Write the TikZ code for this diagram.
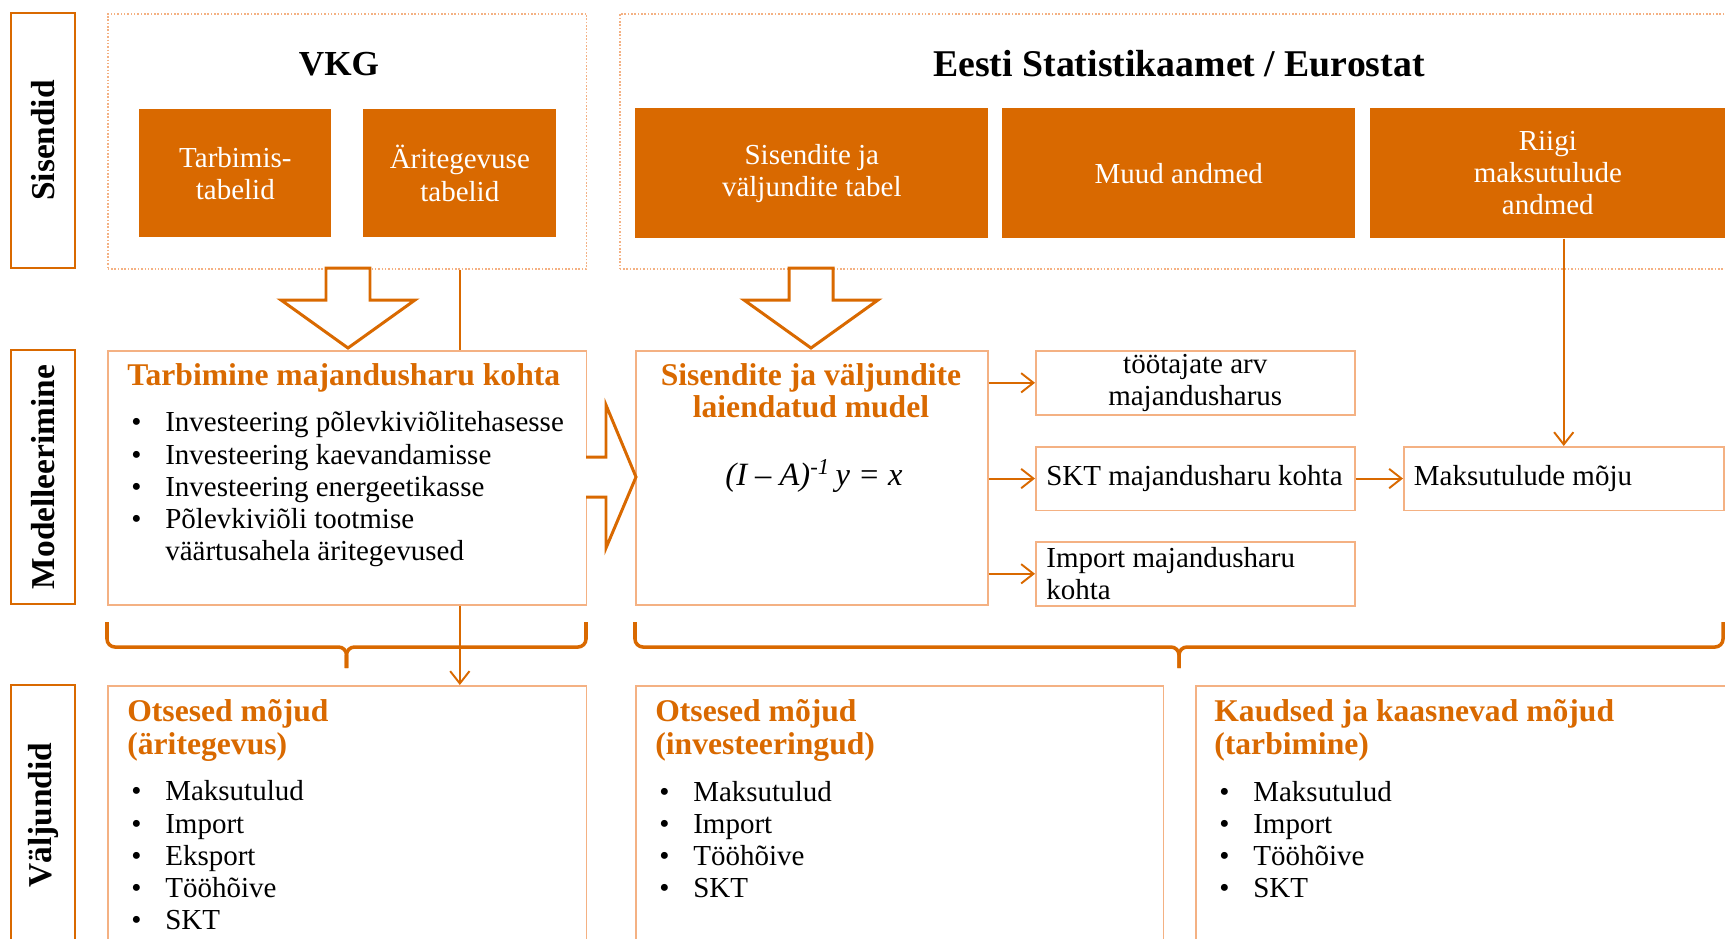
\documentclass[tikz,border=0pt]{standalone}
\usepackage{fontspec}
\setmainfont{Liberation Serif}
\usetikzlibrary{arrows.meta}

\definecolor{vkoranz}{RGB}{217,105,0}
\definecolor{vkhele}{RGB}{244,177,131}

\newcommand{\kehatekst}{\fontsize{16.5}{18.3}\selectfont}
\newcommand{\pealkirifont}{\fontsize{18}{18.3}\selectfont\bfseries}
\newcommand{\suurpealkiri}{\fontsize{20}{22}\selectfont\bfseries}
\newcommand{\punkt}{\makebox[0.68cm][l]{\textbullet}}

\begin{document}
\begin{tikzpicture}[x=0.02cm, y=-0.02cm,
  silt/.style={draw=vkoranz, line width=1.4pt, rotate=90, minimum height=1.28cm, font=\fontsize{19}{22}\selectfont\bfseries},
  raam/.style={draw=vkhele, densely dotted, line width=0.9pt, anchor=north west, inner sep=0pt},
  andmed/.style={fill=vkoranz, text=white, anchor=north west, align=center, font=\kehatekst},
  kast/.style={draw=vkhele, line width=0.9pt, anchor=north west, inner sep=0pt},
  vaike/.style={kast, minimum width=6.38cm, minimum height=1.27cm},
  sisu/.style={font=\kehatekst, inner sep=0pt, align=left, anchor=west},
  pealkiri/.style={text=vkoranz, font=\pealkirifont, inner sep=0pt, align=left},
  loend/.style={font=\kehatekst, inner sep=0pt, align=left, anchor=base west},
  nool/.style={draw=vkoranz, line width=1.1pt, -{Straight Barb[length=7pt, width=11pt]}},
  plokk/.style={draw=vkoranz, line width=1.7pt, fill=white, line join=miter},
  sulg/.style={draw=vkoranz, line width=2pt, rounded corners=0.16cm}]

\useasboundingbox (0,0) rectangle (1725,938);

% Row labels
\node[silt, minimum width=5.1cm] (siltSis) at (43,140.5) {Sisendid};
\node[silt, minimum width=5.08cm] (siltMod) at (43,477) {Modelleerimine};
\node[silt, minimum width=5.2cm] (siltValj) at (43,815) {Väljundid};

% Row 1: inputs (dotted frames)
\node[raam, minimum width=9.58cm, minimum height=5.1cm] (raamVKG) at (107,13) {};
\node[raam, minimum width=22.32cm, minimum height=5.1cm] (raamESA) at (619,13) {};
\node[font=\suurpealkiri] (pkVKG) at (339,64) {VKG};
\node[font=\suurpealkiri\fontsize{21.5}{24}\selectfont] (pkESA) at (1179,64) {Eesti Statistikaamet / Eurostat};

% data tables (orange)
\node[andmed, minimum width=3.84cm, minimum height=2.56cm] (tabTarb) at (139,109) {Tarbimis-\\tabelid};
\node[andmed, minimum width=3.86cm, minimum height=2.56cm] (tabAri) at (363,109) {Äritegevuse\\tabelid};
\node[andmed, minimum width=7.06cm, minimum height=2.6cm] (tabIO) at (635,108) {Sisendite ja\\väljundite tabel};
\node[andmed, minimum width=7.06cm, minimum height=2.6cm] (tabMuud) at (1002,108) {Muud andmed};
\node[andmed, minimum width=7.1cm, minimum height=2.6cm] (tabRiigi) at (1370,108) {Riigi\\maksutulude\\andmed};

% Row 2: modelling
\node[kast, minimum width=9.58cm, minimum height=5.08cm] (bxTarb) at (107,350) {};
\node[pealkiri, anchor=base west] (pkTarb) at (127,385) {Tarbimine majandusharu kohta};
\node[loend] (lsTarb) at (131,560.5) {\punkt Investeering põlevkiviõlitehasesse\\
  \punkt Investeering kaevandamisse\\
  \punkt Investeering energeetikasse\\
  \punkt Põlevkiviõli tootmise\\
  \hspace*{0.68cm}väärtusahela äritegevused};

\node[kast, minimum width=7.04cm, minimum height=5.08cm] (bxMudel) at (635,350) {};
\node[pealkiri, align=center] (pkMudel) at (811,391) {Sisendite ja väljundite\\laiendatud mudel};
\node[font=\fontsize{18.5}{22}\selectfont] (valem) at (814,476) {\textit{(I – A)\textsuperscript{-1}\,y = x}};

\node[vaike, align=center, font=\kehatekst, minimum height=1.28cm] (bxToot) at (1035,350) {töötajate arv\\majandusharus};
\node[vaike] (bxSKT) at (1035,446) {};
\node[sisu] (txSKT) at ([xshift=0.22cm]bxSKT.west) {SKT majandusharu kohta};
\node[vaike, minimum height=1.28cm] (bxImport) at (1035,541) {};
\node[sisu] (txImport) at ([xshift=0.22cm]bxImport.west) {Import majandusharu\\kohta};
\node[vaike, minimum width=6.4cm] (bxMaks) at (1403,446) {};
\node[sisu] (txMaks) at ([xshift=0.21cm]bxMaks.west) {Maksutulude mõju};

% Row 3: outputs
\node[kast, minimum width=9.58cm, minimum height=5.2cm] (bxOts1) at (107,685) {};
\node[pealkiri, anchor=base west] (pkOts1) at (127,754) {Otsesed mõjud\\(äritegevus)};
\node[loend] (lsOts1) at (131,929.5) {\punkt Maksutulud\\ \punkt Import\\ \punkt Eksport\\ \punkt Tööhõive\\ \punkt SKT};

\node[kast, minimum width=10.56cm, minimum height=5.2cm] (bxOts2) at (635,685) {};
\node[pealkiri, anchor=base west] (pkOts2) at (655,754) {Otsesed mõjud\\(investeeringud)};
\node[loend] (lsOts2) at (659,897.5) {\punkt Maksutulud\\ \punkt Import\\ \punkt Tööhõive\\ \punkt SKT};

\node[kast, minimum width=10.8cm, minimum height=5.2cm] (bxKaud) at (1195,685) {};
\node[pealkiri, anchor=base west] (pkKaud) at (1214,754) {Kaudsed ja kaasnevad mõjud\\(tarbimine)};
\node[loend] (lsKaud) at (1219,897.5) {\punkt Maksutulud\\ \punkt Import\\ \punkt Tööhõive\\ \punkt SKT};

% Block arrows
\draw[plokk] (326,268) -- (370,268) -- (370,300) -- (415,300) -- (348,348) -- (281,300) -- (326,300) -- cycle;
\draw[plokk] (789,268) -- (833,268) -- (833,300) -- (878,300) -- (811,348) -- (744,300) -- (789,300) -- cycle;
\draw[plokk] (586,457) -- (606,457) -- (606,405) -- (636,477) -- (606,548) -- (606,497) -- (586,497);

% Connectors
\draw[vkoranz, line width=0.9pt] (raamVKG.south -| tabAri) -- (bxTarb.north -| tabAri);
\draw[nool] (bxTarb.south -| tabAri) -- (bxOts1.north -| tabAri);
\draw[nool] (tabRiigi.south -| bxMaks) -- (bxMaks);
\draw[nool] (bxMudel.east |- bxToot) -- (bxToot);
\draw[nool] (bxMudel.east |- bxSKT) -- (bxSKT);
\draw[nool] (bxMudel.east |- bxImport) -- (bxImport);
\draw[nool] (bxSKT) -- (bxMaks);

% Braces
\draw[sulg] (107,622) |- (346.5,647) -- (346.5,668);
\draw[sulg] (586,622) |- (346.5,647) -- (346.5,668);
\draw[sulg] (635,622) |- (1179,647) -- (1179,668);
\draw[sulg] (1723,622) |- (1179,647) -- (1179,668);

\end{tikzpicture}
\end{document}
